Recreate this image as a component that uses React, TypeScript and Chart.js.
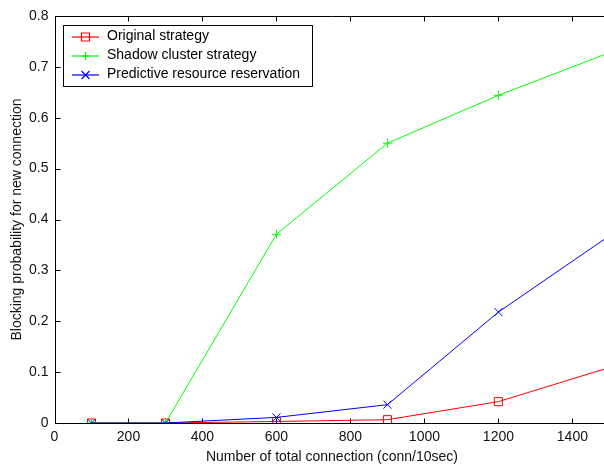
import React, { useEffect, useRef } from "react";
import { Chart, registerables } from "chart.js";

Chart.register(...registerables);

const xValues = [100, 300, 600, 900, 1200, 1500];
const originalStrategy = [0, 0, 0.003, 0.0065, 0.042, 0.109];
const shadowCluster = [0, 0, 0.371, 0.55, 0.644, 0.728];
const predictiveReservation = [0, 0, 0.011, 0.036, 0.218, 0.368];
const seriesLabels = [
  "Original strategy",
  "Shadow cluster strategy",
  "Predictive resource reservation",
];
const seriesColors = ["#ff0000", "#00ff00", "#0000ff"];
const seriesMarkers = ["rect", "cross", "crossRot"];
const xTickValues = [0, 200, 400, 600, 800, 1000, 1200, 1400];
const yTickValues = [0, 0.1, 0.2, 0.3, 0.4, 0.5, 0.6, 0.7, 0.8];
const xTitle = "Number of total connection (conn/10sec)";
const yTitle = "Blocking probability for new connection";

const FONT = "'Liberation Sans', Arial, Helvetica, sans-serif";

const boxPlugin = {
  id: "matlabBox",
  beforeDatasetsDraw(chart: any) {
    const { ctx, chartArea, scales } = chart;
    const { left, right, top, bottom } = chartArea;
    const xs = scales.x;
    const ys = scales.y;
    ctx.save();
    ctx.strokeStyle = "#000";
    ctx.lineWidth = 1;
    const L = Math.round(left) + 0.5;
    const R = Math.round(right) + 0.5;
    const T = Math.round(top) + 0.5;
    const B = Math.round(bottom) + 0.5;
    ctx.beginPath();
    ctx.moveTo(L, T);
    ctx.lineTo(R, T);
    ctx.lineTo(R, B);
    ctx.lineTo(L, B);
    ctx.closePath();
    ctx.stroke();
    const tl = 5;
    ctx.beginPath();
    xs.ticks.forEach((t: any) => {
      const px = Math.round(xs.getPixelForValue(t.value)) + 0.5;
      ctx.moveTo(px, B);
      ctx.lineTo(px, B - tl);
      ctx.moveTo(px, T);
      ctx.lineTo(px, T + tl);
    });
    ys.ticks.forEach((t: any) => {
      const py = Math.round(ys.getPixelForValue(t.value)) + 0.5;
      ctx.moveTo(L, py);
      ctx.lineTo(L + tl, py);
      ctx.moveTo(R, py);
      ctx.lineTo(R - tl, py);
    });
    ctx.stroke();
    ctx.restore();
  },
  afterDraw(chart: any) {
    const { ctx } = chart;
    ctx.save();
    const bx = 63.5, by = 25.5, bw = 249, bh = 61;
    ctx.fillStyle = "#fff";
    ctx.fillRect(bx, by, bw, bh);
    ctx.strokeStyle = "#000";
    ctx.lineWidth = 1;
    ctx.strokeRect(bx, by, bw, bh);
    ctx.font = `14px ${FONT}`;
    ctx.textBaseline = "middle";
    ctx.textAlign = "left";
    seriesLabels.forEach((label, i) => {
      const yy = 37 + i * 19;
      const col = seriesColors[i];
      ctx.strokeStyle = col;
      ctx.lineWidth = 1.2;
      ctx.beginPath();
      ctx.moveTo(72, yy);
      ctx.lineTo(99, yy);
      ctx.stroke();
      const cx = 85.5;
      ctx.beginPath();
      const m = seriesMarkers[i];
      if (m === "rect") {
        ctx.rect(cx - 4, yy - 4, 8, 8);
      } else if (m === "cross") {
        ctx.moveTo(cx - 4, yy);
        ctx.lineTo(cx + 4, yy);
        ctx.moveTo(cx, yy - 4);
        ctx.lineTo(cx, yy + 4);
      } else {
        ctx.moveTo(cx - 4, yy - 4);
        ctx.lineTo(cx + 4, yy + 4);
        ctx.moveTo(cx + 4, yy - 4);
        ctx.lineTo(cx - 4, yy + 4);
      }
      ctx.stroke();
      ctx.fillStyle = "#000";
      ctx.fillText(label, 107, yy - 0.5);
    });
    ctx.restore();
  },
};

export default function App() {
  const ref = useRef<HTMLCanvasElement | null>(null);
  useEffect(() => {
    if (!ref.current) return;
    const mk = (vals: number[]) => xValues.map((x, i) => ({ x, y: vals[i] }));
    const seriesData = [originalStrategy, shadowCluster, predictiveReservation];
    const radii = [5.7, 4.5, 5.7];
    const chart = new Chart(ref.current, {
      type: "line",
      data: {
        datasets: seriesData.map((vals, i) => ({
          label: seriesLabels[i],
          data: mk(vals),
          borderColor: seriesColors[i],
          pointBorderColor: seriesColors[i],
          pointBackgroundColor: "rgba(0,0,0,0)",
          pointStyle: seriesMarkers[i] as any,
          pointRadius: radii[i],
          borderWidth: 1,
          pointBorderWidth: 1,
          order: 2 - i,
        })),
      },
      options: {
        responsive: false,
        animation: false,
        devicePixelRatio: 1,
        layout: { padding: { top: 16, right: 10.6, bottom: 0, left: 0 } },
        plugins: { legend: { display: false }, tooltip: { enabled: false } },
        elements: { line: { tension: 0 } },
        scales: {
          x: {
            type: "linear",
            min: 0,
            max: 1500,
            border: { display: false },
            grid: { display: false, drawTicks: false },
            ticks: {
              padding: 6,
              color: "#111",
              font: { size: 14, family: FONT },
              maxRotation: 0,
              autoSkip: false,
              callback: (v: any) => String(v),
            },
            afterBuildTicks: (s: any) => {
              s.ticks = xTickValues.map((v) => ({ value: v }));
            },
            afterFit: (s: any) => {
              s.height = 47;
            },
            title: {
              display: true,
              text: xTitle,
              color: "#111",
              font: { size: 14, family: FONT },
              padding: { top: 0, bottom: 4 },
            },
          },
          y: {
            type: "linear",
            min: 0,
            max: 0.8,
            border: { display: false },
            grid: { display: false, drawTicks: false },
            ticks: {
              padding: 6,
              color: "#111",
              autoSkip: false,
              font: { size: 14, family: FONT },
              callback: (v: any) => (Math.abs(v) < 1e-9 ? "0" : Number(v).toFixed(1)),
            },
            afterBuildTicks: (s: any) => {
              s.ticks = yTickValues.map((v) => ({ value: v }));
            },
            afterFit: (s: any) => {
              s.width = 54.5;
            },
            title: {
              display: true,
              text: yTitle,
              color: "#111",
              font: { size: 14, family: FONT },
              padding: { top: 9, bottom: 0 },
            },
          },
        },
      },
      plugins: [boxPlugin],
    });
    return () => chart.destroy();
  }, []);
  return (
    <div
      style={{
        position: "fixed",
        left: 0,
        top: 0,
        width: 604,
        height: 470,
        overflow: "hidden",
        background: "#fff",
      }}
    >
      <canvas ref={ref} width={620} height={470} style={{ display: "block" }} />
    </div>
  );
}
